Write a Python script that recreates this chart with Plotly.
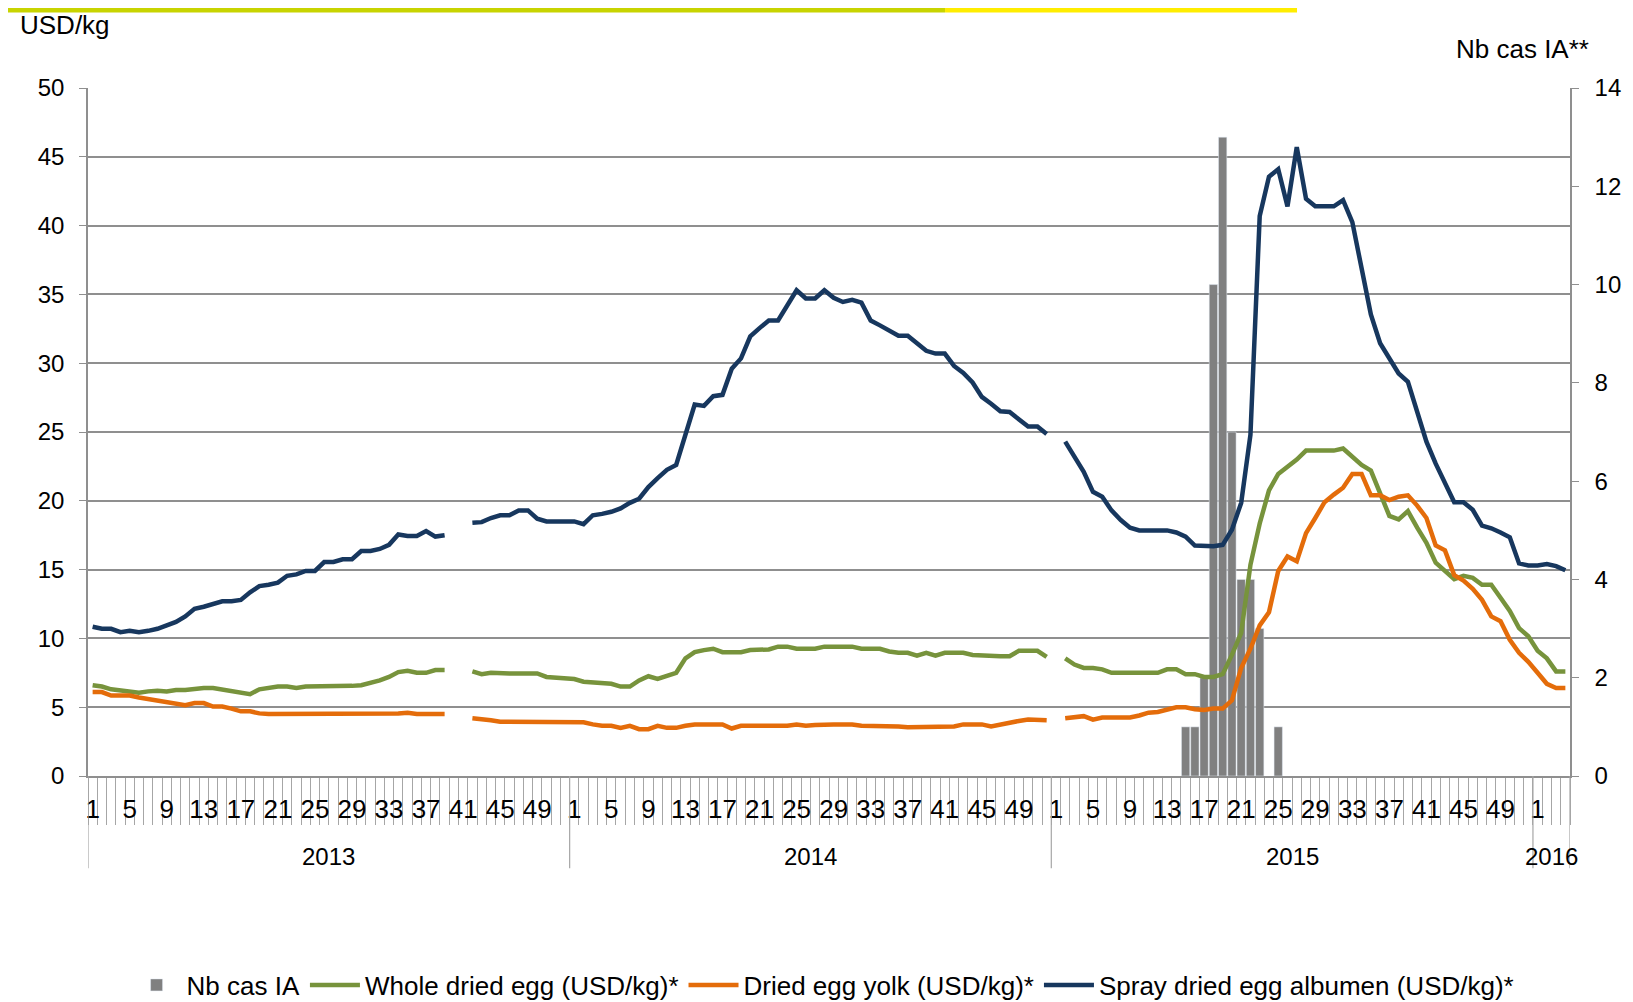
import plotly.graph_objects as go

# x axis: ISO weeks, grouped by year
years = ["2013", "2014", "2015", "2016"]
weeks_in_year = [52, 52, 52, 4]

# weekly prices USD/kg (None = no quotation that week)
whole_dried_egg = [
    # 2013
    6.6, 6.5, 6.3, 6.2, 6.15, 6.05, 6.15, 6.2, 6.15, 6.25,
    6.25, 6.35, 6.4, 6.4, 6.3, 6.2, 6.1, 5.95, 6.3, 6.4,
    6.5, 6.5, 6.4, 6.5, 6.5, 6.5, 6.5, 6.55, 6.55, 6.6,
    6.75, 6.95, 7.2, 7.55, 7.65, 7.5, 7.5, 7.7, 7.7, None,
    None, 7.6, 7.4, 7.5, 7.45, 7.45, 7.45, 7.45, 7.45, 7.2,
    7.15, 7.05,
    # 2014
    7.05, 6.85, 6.8, 6.7, 6.7, 6.5, 6.5, 6.95, 7.25, 7.05,
    7.25, 7.5, 8.55, 9.0, 9.15, 9.25, 9.0, 9.0, 9.0, 9.15,
    9.2, 9.2, 9.4, 9.4, 9.25, 9.25, 9.25, 9.4, 9.4, 9.4,
    9.4, 9.25, 9.25, 9.25, 9.05, 8.95, 8.95, 8.75, 8.95, 8.75,
    8.95, 8.95, 8.95, 8.8, 8.75, 8.7, 8.7, 8.7, 9.1, 9.1,
    9.1, 8.65,
    # 2015
    None, 8.55, 8.1, 7.85, 7.85, 7.75, 7.5, 7.5, 7.5, 7.5,
    7.5, 7.5, 7.75, 7.75, 7.4, 7.4, 7.2, 7.2, 7.4, 8.8,
    10.4, 15.35, 18.35, 20.75, 21.95, 22.45, 23.0, 23.65, 23.65, 23.65,
    23.65, 23.8, 23.15, 22.6, 22.2, 20.5, 18.9, 18.65, 19.25, 18.05,
    16.95, 15.5, 14.85, 14.3, 14.55, 14.4, 13.9, 13.9, 12.95, 12.0,
    10.75, 10.15,
    # 2016
    9.1, 8.55, 7.6, 7.6,
]

dried_egg_yolk = [
    # 2013
    6.1, 6.1, 5.85, 5.85, 5.85, 5.7, 5.6, 5.5, 5.4, 5.25,
    5.15, 5.3, 5.3, 5.05, 5.05, 4.9, 4.7, 4.7, 4.55, 4.5,
    4.5, 4.5, 4.5, 4.5, 4.5, 4.5, 4.5, 4.5, 4.5, 4.5,
    4.5, 4.5, 4.5, 4.55, 4.6, 4.5, 4.5, 4.5, 4.5, None,
    None, 4.2, 4.15, 4.05, 3.95, 3.95, 3.9, 3.9, 3.9, 3.9,
    3.9, 3.9,
    # 2014
    3.9, 3.9, 3.75, 3.65, 3.65, 3.5, 3.65, 3.4, 3.4, 3.65,
    3.5, 3.5, 3.65, 3.75, 3.75, 3.75, 3.75, 3.45, 3.65, 3.65,
    3.65, 3.65, 3.65, 3.65, 3.75, 3.65, 3.7, 3.75, 3.75, 3.75,
    3.75, 3.65, 3.65, 3.65, 3.6, 3.6, 3.55, 3.55, 3.55, 3.6,
    3.6, 3.6, 3.75, 3.75, 3.75, 3.6, 3.75, 3.85, 4.0, 4.1,
    4.1, 4.05,
    # 2015
    None, 4.2, 4.25, 4.35, 4.1, 4.25, 4.25, 4.25, 4.25, 4.4,
    4.6, 4.65, 4.85, 5.0, 5.0, 4.85, 4.8, 4.9, 4.9, 5.5,
    7.85, 9.25, 10.95, 11.9, 14.9, 15.95, 15.6, 17.65, 18.75, 19.9,
    20.45, 20.95, 21.95, 21.95, 20.4, 20.4, 20.05, 20.3, 20.4, 19.65,
    18.75, 16.75, 16.4, 14.6, 14.2, 13.6, 12.8, 11.6, 11.25, 9.9,
    8.95, 8.3,
    # 2016
    7.5, 6.7, 6.4, 6.4,
]

spray_dried_albumen = [
    # 2013
    10.85, 10.7, 10.7, 10.45, 10.55, 10.45, 10.55, 10.7, 10.95, 11.2,
    11.6, 12.15, 12.3, 12.5, 12.7, 12.7, 12.8, 13.35, 13.8, 13.9,
    14.05, 14.55, 14.65, 14.9, 14.9, 15.55, 15.55, 15.75, 15.75, 16.35,
    16.35, 16.5, 16.8, 17.55, 17.45, 17.45, 17.8, 17.4, 17.5, None,
    None, 18.4, 18.45, 18.75, 18.95, 18.95, 19.3, 19.3, 18.7, 18.5,
    18.5, 18.5,
    # 2014
    18.5, 18.3, 18.95, 19.05, 19.2, 19.45, 19.85, 20.15, 21.0, 21.65,
    22.25, 22.6, 24.7, 27.0, 26.9, 27.6, 27.7, 29.6, 30.35, 31.95,
    32.55, 33.1, 33.1, 34.15, 35.3, 34.7, 34.7, 35.3, 34.75, 34.45,
    34.6, 34.4, 33.1, 32.75, 32.35, 32.0, 32.0, 31.45, 30.9, 30.7,
    30.7, 29.8, 29.3, 28.6, 27.55, 27.05, 26.5, 26.45, 25.95, 25.4,
    25.4, 24.85,
    # 2015
    None, 24.3, 23.2, 22.1, 20.65, 20.3, 19.3, 18.6, 18.05, 17.85,
    17.85, 17.85, 17.85, 17.7, 17.4, 16.75, 16.7, 16.7, 16.8, 17.9,
    19.85, 24.8, 40.7, 43.55, 44.1, 41.4, 45.7, 41.95, 41.4, 41.4,
    41.4, 41.85, 40.25, 36.9, 33.55, 31.45, 30.35, 29.25, 28.65, 26.5,
    24.3, 22.7, 21.25, 19.9, 19.9, 19.35, 18.2, 18.0, 17.7, 17.35,
    15.45, 15.3,
    # 2016
    15.3, 15.4, 15.25, 14.95,
]

# avian influenza cases, 2015 weeks
ia_year = "2015"
ia_weeks = [15, 16, 17, 18, 19, 20, 21, 22, 23, 25]
ia_cases = [1, 1, 2, 10, 13, 7, 4, 4, 3, 1]

GRID = "#8f8f8f"
TICK = "#a6a6a6"

week_labels = [w for n in weeks_in_year for w in range(1, n + 1)]
x = list(range(len(week_labels)))
year_start = [sum(weeks_in_year[:k]) for k in range(len(years))]
ia_x = [year_start[years.index(ia_year)] + w - 1 for w in ia_weeks]

# label every 4th category, like the original
tick_idx = x[::4]
tick_txt = [str(week_labels[i]) for i in tick_idx]

fig = go.Figure()
# bars on primary (right) axis so the price lines are drawn on top
fig.add_trace(go.Bar(x=ia_x, y=ia_cases, name="Nb cas IA",
                     marker=dict(color="#808080"), yaxis="y"))

series = [
    ("Whole dried egg (USD/kg)*", whole_dried_egg, "#77933c"),
    ("Dried egg yolk (USD/kg)*", dried_egg_yolk, "#e46c0a"),
    ("Spray dried egg albumen (USD/kg)*", spray_dried_albumen, "#17375e"),
]
for name, vals, color in series:
    fig.add_trace(go.Scatter(x=x, y=vals, mode="lines", name=name,
                             line=dict(color=color, width=4.5),
                             connectgaps=False, yaxis="y2"))

# year separators and year labels under the week labels
shapes = []
annotations = []
bounds = year_start + [len(x)]
for b in bounds:
    shapes.append(dict(type="line", xref="x", yref="paper",
                       x0=b - 0.5, x1=b - 0.5, y0=0, y1=-0.134,
                       line=dict(color=TICK, width=1.2)))
for k, yr in enumerate(years):
    annotations.append(dict(x=(bounds[k] + bounds[k + 1] - 1) / 2, y=-0.1163,
                            xref="x", yref="paper", text=yr, showarrow=False,
                            yanchor="middle", font=dict(size=24)))

annotations.append(dict(x=-0.0472, y=1.0916, xref="paper", yref="paper",
                        text="USD/kg", showarrow=False, xanchor="left",
                        yanchor="middle", font=dict(size=26)))
annotations.append(dict(x=1.0142, y=1.0567, xref="paper", yref="paper",
                        text="Nb cas IA**", showarrow=False, xanchor="right",
                        yanchor="middle", font=dict(size=26)))

# coloured strip at the very top of the page
shapes.append(dict(type="rect", xref="paper", yref="paper", x0=-0.06, x1=0.5783,
                   y0=1.1097, y1=1.1163, fillcolor="#c8d400", line=dict(width=0)))
shapes.append(dict(type="rect", xref="paper", yref="paper", x0=0.5783, x1=0.8158,
                   y0=1.1097, y1=1.1163, fillcolor="#ffed00", line=dict(width=0)))

# page body has an 8px margin, so the figure is 8px smaller than the window
fig.update_layout(
    width=1625, height=994,
    margin=dict(l=80, r=63, t=80, b=226),
    plot_bgcolor="white", paper_bgcolor="white",
    font=dict(family="Arial, Liberation Sans, sans-serif", size=24, color="#000"),
    bargap=0.1,
    shapes=shapes,
    annotations=annotations,
    legend=dict(orientation="h", x=0.496, xanchor="center",
                yref="container", y=0.0171, yanchor="middle",
                font=dict(size=26), traceorder="normal", itemwidth=50),
    xaxis=dict(range=[-0.5, len(x) - 0.5], tickmode="array",
               tickvals=tick_idx, ticktext=tick_txt, ticks="",
               showline=True, linecolor=GRID, linewidth=1.5,
               showgrid=False, zeroline=False, ticklabelstandoff=9,
               tickfont=dict(family="Liberation Sans Narrow, Arial Narrow, Liberation Sans",
                             size=26),
               minor=dict(tickmode="linear", tick0=-0.5, dtick=1, ticks="outside",
                          ticklen=47, tickcolor=TICK, tickwidth=1)),
    yaxis=dict(range=[0, 14], dtick=2, side="right", showgrid=False,
               showline=True, linecolor=GRID, linewidth=1.5, ticks="outside",
               ticklen=7, tickcolor=GRID, zeroline=False, ticklabelstandoff=11),
    yaxis2=dict(range=[0, 50], dtick=5, side="left", overlaying="y",
                showgrid=True, gridcolor=GRID, gridwidth=1.5,
                showline=True, linecolor=GRID, linewidth=1.5, ticks="outside",
                ticklen=7, tickcolor=GRID, zeroline=False, ticklabelstandoff=10),
)

fig.write_html("out.html")
